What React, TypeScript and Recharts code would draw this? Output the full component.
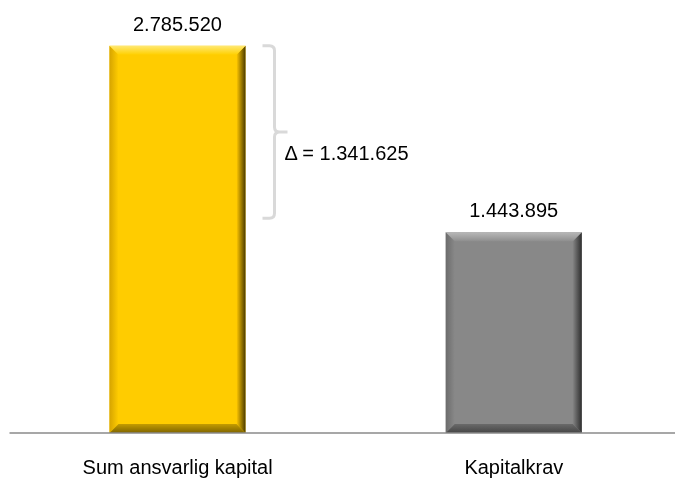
import React from 'react';
import { BarChart, Bar, XAxis, YAxis, LabelList } from 'recharts';

// Categories and values
const categories = ['Sum ansvarlig kapital', 'Kapitalkrav'];
const amounts = [2785520, 1443895];
const yDomain = [0, 3000000];

// Bevel palettes per bar
const palettes = [
  { face: '#FFCC00', top1: '#FFE873', top2: '#FFD000', left1: '#D6A400', right1: '#FFC800', right2: '#4A3A00', bot1: '#C49C00', bot2: '#7E6400' },
  { face: '#888888', top1: '#B8B8B8', top2: '#8E8E8E', left1: '#6C6C6C', right1: '#858585', right2: '#2E2E2E', bot1: '#6A6A6A', bot2: '#454545' },
];

const data = categories.map((name, i) => ({ name, value: amounts[i] }));

const FONT = '"Liberation Sans", Arial, sans-serif';

const fmt = (n: number) => String(Math.round(n)).replace(/\B(?=(\d{3})+(?!\d))/g, '.');

const BevelBar = (props: any) => {
  const { x, y, width: w, height: h, index } = props;
  const p = palettes[index % palettes.length];
  const b = 9;
  const id = `bv${index}`;
  return (
    <g>
      <defs>
        <linearGradient id={`${id}t`} x1="0" y1="0" x2="0" y2="1">
          <stop offset="0" stopColor={p.top1} />
          <stop offset="1" stopColor={p.top2} />
        </linearGradient>
        <linearGradient id={`${id}l`} x1="0" y1="0" x2="1" y2="0">
          <stop offset="0" stopColor={p.left1} />
          <stop offset="1" stopColor={p.face} />
        </linearGradient>
        <linearGradient id={`${id}r`} x1="0" y1="0" x2="1" y2="0">
          <stop offset="0" stopColor={p.right1} />
          <stop offset="1" stopColor={p.right2} />
        </linearGradient>
        <linearGradient id={`${id}b`} x1="0" y1="0" x2="0" y2="1">
          <stop offset="0" stopColor={p.bot1} />
          <stop offset="1" stopColor={p.bot2} />
        </linearGradient>
      </defs>
      <rect x={x} y={y} width={w} height={h} fill={p.face} />
      <polygon points={`${x},${y} ${x + b},${y + b} ${x + b},${y + h - b} ${x},${y + h}`} fill={`url(#${id}l)`} />
      <polygon points={`${x + w},${y} ${x + w - b},${y + b} ${x + w - b},${y + h - b} ${x + w},${y + h}`} fill={`url(#${id}r)`} />
      <polygon points={`${x},${y} ${x + w},${y} ${x + w - b},${y + b} ${x + b},${y + b}`} fill={`url(#${id}t)`} />
      <polygon points={`${x},${y + h} ${x + w},${y + h} ${x + w - b},${y + h - b} ${x + b},${y + h - b}`} fill={`url(#${id}b)`} />
    </g>
  );
};

// Curly bracket beside the first bar showing the difference between the two values
const DeltaBracket = (props: any) => {
  const { x, y, width, height, index } = props;
  if (index !== 0) return null;
  const pxPerUnit = height / amounts[0];
  const top = y;
  const bottom = y + (amounts[0] - amounts[1]) * pxPerUnit - 14;
  const mid = (top + bottom) / 2;
  const x0 = x + width + 17;
  const xv = x + width + 29;
  const xt = x + width + 42;
  const r = 5;
  const d = [
    `M${x0},${top}`,
    `L${xv - r},${top}`,
    `Q${xv},${top} ${xv},${top + r}`,
    `L${xv},${mid - r}`,
    `Q${xv},${mid} ${xv + r},${mid}`,
    `L${xt},${mid}`,
    `M${xv + r},${mid}`,
    `Q${xv},${mid} ${xv},${mid + r}`,
    `L${xv},${bottom - r}`,
    `Q${xv},${bottom} ${xv - r},${bottom}`,
    `L${x0},${bottom}`,
  ].join(' ');
  return (
    <g>
      <path d={d} fill="none" stroke="#D9D9D9" strokeWidth={3} />
      <text x={x + width + 39} y={mid + 28} fontSize={20} fontFamily={FONT} fill="#000">
        {`\u0394 = ${fmt(amounts[0] - amounts[1])}`}
      </text>
    </g>
  );
};

const CategoryTick = (props: any) => {
  const { x, y, payload } = props;
  return (
    <text x={x} y={y + 33} textAnchor="middle" fontSize={20} fontFamily={FONT} fill="#000">
      {payload.value}
    </text>
  );
};

export default function App() {
  return (
    <div style={{ position: 'fixed', left: 8, top: 8, width: 667, height: 471, overflow: 'hidden' }}>
      <BarChart
        width={674}
        height={471}
        data={data}
        margin={{ top: 8, right: 0, bottom: 0, left: 1.5 }}
        barSize={136}
      >
        <XAxis
          dataKey="name"
          height={46}
          tickLine={false}
          axisLine={{ stroke: '#8A8A8A', strokeWidth: 1.5 }}
          tick={<CategoryTick />}
          interval={0}
        />
        <YAxis hide domain={yDomain} />
        <Bar dataKey="value" shape={<BevelBar />} isAnimationActive={false}>
          <LabelList
            dataKey="value"
            position="top"
            offset={15}
            formatter={(v: any) => fmt(Number(v))}
            style={{ fontSize: 20, fontFamily: FONT, fill: '#000' }}
          />
          <LabelList dataKey="value" content={<DeltaBracket />} />
        </Bar>
      </BarChart>
    </div>
  );
}
